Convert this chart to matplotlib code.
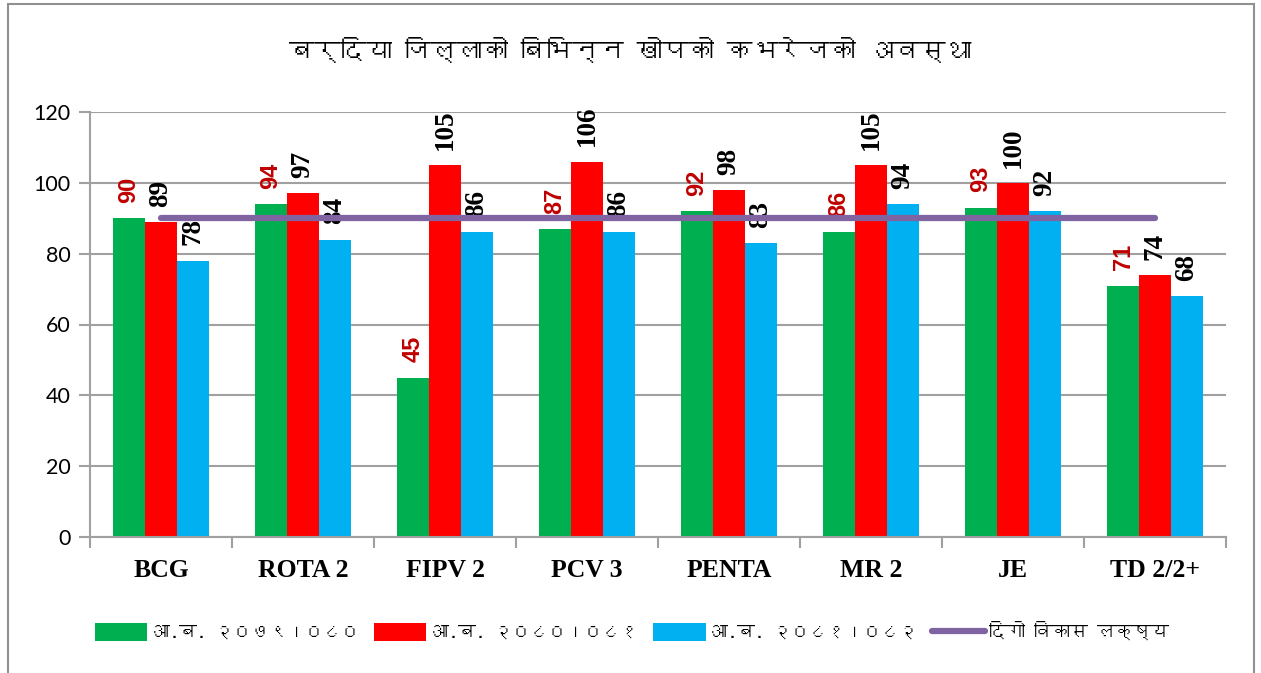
import matplotlib
matplotlib.use("Agg")
import matplotlib.pyplot as plt
import numpy as np
from matplotlib import font_manager
from matplotlib.ft2font import FT2Font
from matplotlib.patches import Rectangle

# ---------------- data ----------------
categories = ["BCG", "ROTA 2", "FIPV 2", "PCV 3", "PENTA", "MR 2", "JE", "TD 2/2+"]
series_names = ["आ.ब. २०७९।०८०", "आ.ब. २०८०।०८१", "आ.ब. २०८१।०८२"]
values_2079 = [90, 94, 45, 87, 92, 86, 93, 71]
values_2080 = [89, 97, 105, 106, 98, 105, 100, 74]
values_2081 = [78, 84, 86, 86, 83, 94, 92, 68]
target_name = "दिगो विकास लक्ष्य"
target_value = [90] * len(categories)
title_text = "बर्दिया जिल्लाको बिभिन्न खोपको कभरेजको अवस्था"
y_ticks = [0, 20, 40, 60, 80, 100, 120]

# ---------------- font for Devanagari ----------------
deva_family = None
for fe in font_manager.fontManager.ttflist:
    try:
        cm = FT2Font(fe.fname).get_charmap()
        if 0x0915 in cm and 0x0967 in cm:
            deva_family = fe.name
            break
    except Exception:
        pass
deva_fonts = ([deva_family] if deva_family else []) + ["DejaVu Sans"]

colors = ["#00B050", "#FF0000", "#00B0F0"]
label_colors = ["#C00000", "black", "black"]
target_color = "#8064A2"

fig = plt.figure(figsize=(12.61, 6.73), dpi=100)
ax = fig.add_axes([90 / 1261, 1 - 537 / 673, (1226 - 90) / 1261, (537 - 112) / 673])

x = np.arange(len(categories))
w = 0.225
all_series = [values_2079, values_2080, values_2081]
bar_handles = []
for i, (vals, c) in enumerate(zip(all_series, colors)):
    pos = x + (i - 1) * w
    b = ax.bar(pos, vals, width=w, color=c, zorder=2, label=series_names[i])
    bar_handles.append(b)
    for px, v in zip(pos, vals):
        if i == 0:
            ax.annotate(f"{v}", (px, v), xytext=(0, 11), textcoords="offset points",
                        rotation=90, ha="center", va="bottom", fontsize=17,
                        fontweight="bold", color=label_colors[i],
                        family=["Liberation Sans", "DejaVu Sans"])
        else:
            ax.annotate(f"{v}", (px, v), xytext=(0, 11), textcoords="offset points",
                        rotation=90, ha="center", va="bottom", fontsize=19.5,
                        fontweight="bold", color=label_colors[i],
                        family=["Liberation Serif", "DejaVu Serif"])

line_handle, = ax.plot(x, target_value, color=target_color, lw=4.5, solid_capstyle="round",
                       zorder=3, label=target_name)

ax.set_xlim(-0.5, len(categories) - 0.5)
ax.set_ylim(0, 120)
ax.set_yticks(y_ticks)
ax.set_yticklabels([str(t) for t in y_ticks], fontsize=15.5, family=["Lato", "DejaVu Sans"])
ax.yaxis.grid(True, color="#A0A0A0", lw=1.5, zorder=0)
ax.set_axisbelow(True)
ax.tick_params(axis="y", length=8, width=1.5, color="#A0A0A0", pad=6)

ax.set_xticks(x)
ax.set_xticklabels(categories, fontsize=18.5, fontweight="bold",
                   family=["Liberation Serif", "DejaVu Serif"])
ax.tick_params(axis="x", length=0, pad=16)
ax.set_xticks(np.arange(len(categories) + 1) - 0.5, minor=True)
ax.tick_params(axis="x", which="minor", length=8, width=1.5, color="#A0A0A0")

for s in ["top", "right"]:
    ax.spines[s].set_visible(False)
for s in ["left", "bottom"]:
    ax.spines[s].set_color("#A0A0A0")
    ax.spines[s].set_linewidth(1.5)

fig.text(0.5, 1 - 50 / 673, title_text, ha="center", va="center", fontsize=18.5,
         fontweight="bold", family=deva_fonts)

handles = bar_handles + [line_handle]
labels = series_names + [target_name]
leg = fig.legend(handles, labels, loc="center", bbox_to_anchor=(632 / 1261, 1 - 631 / 673),
                 ncol=4, frameon=False, prop={"family": deva_fonts, "size": 13},
                 handlelength=2.9, handleheight=1.1, handletextpad=0.25, columnspacing=0.85)

fig.patches.append(Rectangle((8 / 1261, -0.01), (1254 - 8) / 1261, 1 - 4 / 673 + 0.01,
                             transform=fig.transFigure, fill=False, edgecolor="#909090",
                             lw=1.5, zorder=0))

fig.savefig("out.png", dpi=100)
